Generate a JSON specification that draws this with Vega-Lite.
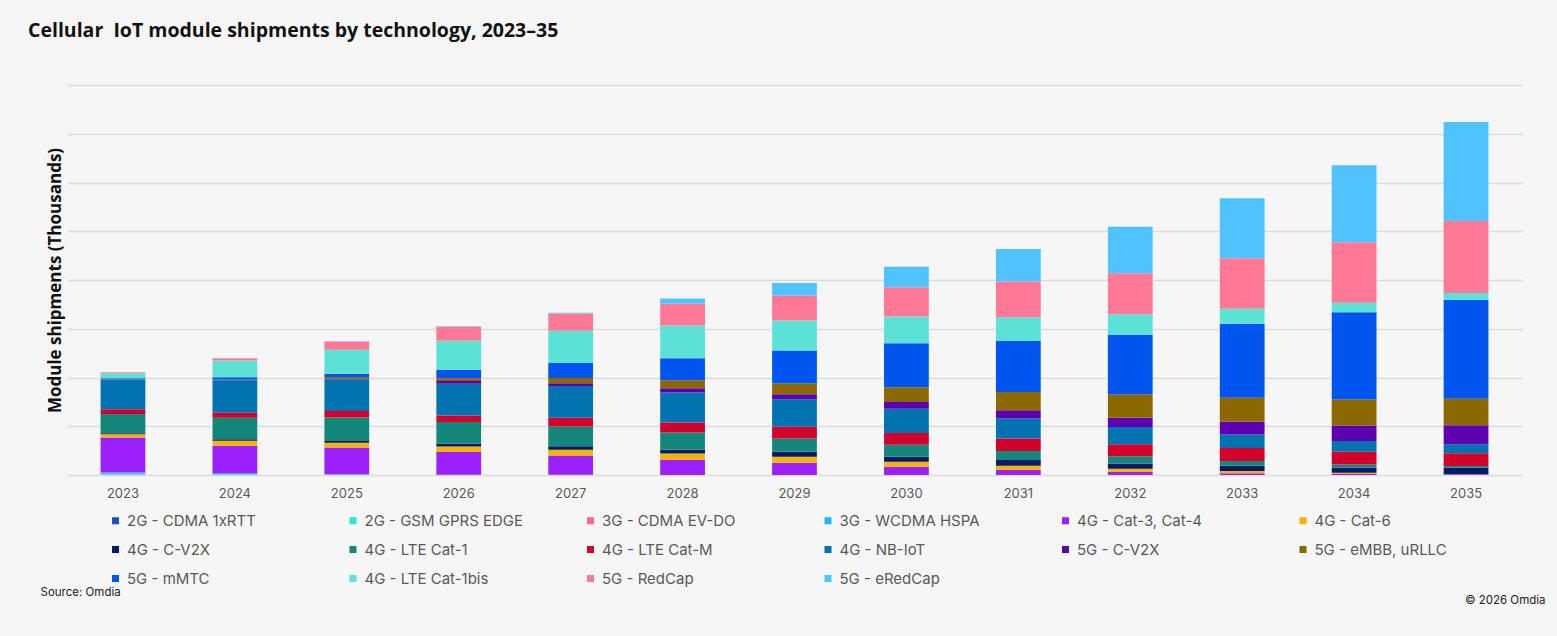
{
  "$schema": "https://vega.github.io/schema/vega-lite/v6.json",
  "autosize": "none",
  "width": 1455,
  "height": 390,
  "padding": {"left": 67, "top": 85, "right": 35, "bottom": 161},
  "background": "#f6f6f6",
  "title": {
    "text": "Cellular\u00a0 IoT module shipments by technology, 2023\u201335",
    "anchor": "start",
    "frame": "group",
    "dx": -39,
    "offset": 29,
    "baseline": "alphabetic",
    "font": "Open Sans",
    "fontSize": 19.5,
    "fontWeight": "bold",
    "color": "#111111"
  },
  "config": {
    "view": {"stroke": null},
    "font": "Inter"
  },
  "data": {
    "values": [
      {"year": "2023", "tech": "2G - CDMA 1xRTT", "value": 600},
      {"year": "2023", "tech": "2G - GSM GPRS EDGE", "value": 1400},
      {"year": "2023", "tech": "3G - CDMA EV-DO", "value": 400},
      {"year": "2023", "tech": "3G - WCDMA HSPA", "value": 2700},
      {"year": "2023", "tech": "4G - Cat-3, Cat-4", "value": 71600},
      {"year": "2023", "tech": "4G - Cat-6", "value": 6700},
      {"year": "2023", "tech": "4G - C-V2X", "value": 2000},
      {"year": "2023", "tech": "4G - LTE Cat-1", "value": 39500},
      {"year": "2023", "tech": "4G - LTE Cat-M", "value": 10200},
      {"year": "2023", "tech": "4G - NB-IoT", "value": 60700},
      {"year": "2023", "tech": "5G - C-V2X", "value": 0},
      {"year": "2023", "tech": "5G - eMBB, uRLLC", "value": 600},
      {"year": "2023", "tech": "5G - mMTC", "value": 2000},
      {"year": "2023", "tech": "4G - LTE Cat-1bis", "value": 10200},
      {"year": "2023", "tech": "5G - RedCap", "value": 2000},
      {"year": "2023", "tech": "5G - eRedCap", "value": 0},

      {"year": "2024", "tech": "2G - CDMA 1xRTT", "value": 400},
      {"year": "2024", "tech": "2G - GSM GPRS EDGE", "value": 1000},
      {"year": "2024", "tech": "3G - CDMA EV-DO", "value": 200},
      {"year": "2024", "tech": "3G - WCDMA HSPA", "value": 2000},
      {"year": "2024", "tech": "4G - Cat-3, Cat-4", "value": 56600},
      {"year": "2024", "tech": "4G - Cat-6", "value": 10200},
      {"year": "2024", "tech": "4G - C-V2X", "value": 2700},
      {"year": "2024", "tech": "4G - LTE Cat-1", "value": 44400},
      {"year": "2024", "tech": "4G - LTE Cat-M", "value": 10200},
      {"year": "2024", "tech": "4G - NB-IoT", "value": 66900},
      {"year": "2024", "tech": "5G - C-V2X", "value": 400},
      {"year": "2024", "tech": "5G - eMBB, uRLLC", "value": 1000},
      {"year": "2024", "tech": "5G - mMTC", "value": 4500},
      {"year": "2024", "tech": "4G - LTE Cat-1bis", "value": 34200},
      {"year": "2024", "tech": "5G - RedCap", "value": 4700},
      {"year": "2024", "tech": "5G - eRedCap", "value": 0},

      {"year": "2025", "tech": "2G - CDMA 1xRTT", "value": 200},
      {"year": "2025", "tech": "2G - GSM GPRS EDGE", "value": 600},
      {"year": "2025", "tech": "3G - CDMA EV-DO", "value": 0},
      {"year": "2025", "tech": "3G - WCDMA HSPA", "value": 600},
      {"year": "2025", "tech": "4G - Cat-3, Cat-4", "value": 55200},
      {"year": "2025", "tech": "4G - Cat-6", "value": 9600},
      {"year": "2025", "tech": "4G - C-V2X", "value": 3500},
      {"year": "2025", "tech": "4G - LTE Cat-1", "value": 48500},
      {"year": "2025", "tech": "4G - LTE Cat-M", "value": 12900},
      {"year": "2025", "tech": "4G - NB-IoT", "value": 65400},
      {"year": "2025", "tech": "5G - C-V2X", "value": 1000},
      {"year": "2025", "tech": "5G - eMBB, uRLLC", "value": 3700},
      {"year": "2025", "tech": "5G - mMTC", "value": 6700},
      {"year": "2025", "tech": "4G - LTE Cat-1bis", "value": 49100},
      {"year": "2025", "tech": "5G - RedCap", "value": 17000},
      {"year": "2025", "tech": "5G - eRedCap", "value": 200},

      {"year": "2026", "tech": "2G - GSM GPRS EDGE", "value": 300},
      {"year": "2026", "tech": "3G - WCDMA HSPA", "value": 300},
      {"year": "2026", "tech": "4G - Cat-3, Cat-4", "value": 46400},
      {"year": "2026", "tech": "4G - Cat-6", "value": 11700},
      {"year": "2026", "tech": "4G - C-V2X", "value": 5500},
      {"year": "2026", "tech": "4G - LTE Cat-1", "value": 44400},
      {"year": "2026", "tech": "4G - LTE Cat-M", "value": 13700},
      {"year": "2026", "tech": "4G - NB-IoT", "value": 64800},
      {"year": "2026", "tech": "5G - C-V2X", "value": 5500},
      {"year": "2026", "tech": "5G - eMBB, uRLLC", "value": 6100},
      {"year": "2026", "tech": "5G - mMTC", "value": 17000},
      {"year": "2026", "tech": "4G - LTE Cat-1bis", "value": 59900},
      {"year": "2026", "tech": "5G - RedCap", "value": 28600},
      {"year": "2026", "tech": "5G - eRedCap", "value": 1000},

      {"year": "2027", "tech": "2G - GSM GPRS EDGE", "value": 200},
      {"year": "2027", "tech": "3G - WCDMA HSPA", "value": 200},
      {"year": "2027", "tech": "4G - Cat-3, Cat-4", "value": 39500},
      {"year": "2027", "tech": "4G - Cat-6", "value": 11700},
      {"year": "2027", "tech": "4G - C-V2X", "value": 7600},
      {"year": "2027", "tech": "4G - LTE Cat-1", "value": 40300},
      {"year": "2027", "tech": "4G - LTE Cat-M", "value": 17800},
      {"year": "2027", "tech": "4G - NB-IoT", "value": 65400},
      {"year": "2027", "tech": "5G - C-V2X", "value": 5500},
      {"year": "2027", "tech": "5G - eMBB, uRLLC", "value": 10800},
      {"year": "2027", "tech": "5G - mMTC", "value": 30700},
      {"year": "2027", "tech": "4G - LTE Cat-1bis", "value": 66100},
      {"year": "2027", "tech": "5G - RedCap", "value": 35400},
      {"year": "2027", "tech": "5G - eRedCap", "value": 1600},

      {"year": "2028", "tech": "4G - Cat-3, Cat-4", "value": 31300},
      {"year": "2028", "tech": "4G - Cat-6", "value": 12900},
      {"year": "2028", "tech": "4G - C-V2X", "value": 7600},
      {"year": "2028", "tech": "4G - LTE Cat-1", "value": 35400},
      {"year": "2028", "tech": "4G - LTE Cat-M", "value": 20500},
      {"year": "2028", "tech": "4G - NB-IoT", "value": 61400},
      {"year": "2028", "tech": "5G - C-V2X", "value": 8800},
      {"year": "2028", "tech": "5G - eMBB, uRLLC", "value": 16400},
      {"year": "2028", "tech": "5G - mMTC", "value": 45000},
      {"year": "2028", "tech": "4G - LTE Cat-1bis", "value": 67500},
      {"year": "2028", "tech": "5G - RedCap", "value": 44400},
      {"year": "2028", "tech": "5G - eRedCap", "value": 10800},

      {"year": "2029", "tech": "4G - Cat-3, Cat-4", "value": 25200},
      {"year": "2029", "tech": "4G - Cat-6", "value": 12300},
      {"year": "2029", "tech": "4G - C-V2X", "value": 10200},
      {"year": "2029", "tech": "4G - LTE Cat-1", "value": 27200},
      {"year": "2029", "tech": "4G - LTE Cat-M", "value": 23900},
      {"year": "2029", "tech": "4G - NB-IoT", "value": 56600},
      {"year": "2029", "tech": "5G - C-V2X", "value": 10200},
      {"year": "2029", "tech": "5G - eMBB, uRLLC", "value": 21900},
      {"year": "2029", "tech": "5G - mMTC", "value": 68100},
      {"year": "2029", "tech": "4G - LTE Cat-1bis", "value": 61400},
      {"year": "2029", "tech": "5G - RedCap", "value": 51100},
      {"year": "2029", "tech": "5G - eRedCap", "value": 26000},

      {"year": "2030", "tech": "4G - Cat-3, Cat-4", "value": 17000},
      {"year": "2030", "tech": "4G - Cat-6", "value": 10200},
      {"year": "2030", "tech": "4G - C-V2X", "value": 10200},
      {"year": "2030", "tech": "4G - LTE Cat-1", "value": 24500},
      {"year": "2030", "tech": "4G - LTE Cat-M", "value": 24500},
      {"year": "2030", "tech": "4G - NB-IoT", "value": 49700},
      {"year": "2030", "tech": "5G - C-V2X", "value": 13700},
      {"year": "2030", "tech": "5G - eMBB, uRLLC", "value": 30100},
      {"year": "2030", "tech": "5G - mMTC", "value": 90600},
      {"year": "2030", "tech": "4G - LTE Cat-1bis", "value": 54600},
      {"year": "2030", "tech": "5G - RedCap", "value": 59900},
      {"year": "2030", "tech": "5G - eRedCap", "value": 42300},

      {"year": "2031", "tech": "4G - Cat-3, Cat-4", "value": 10200},
      {"year": "2031", "tech": "4G - Cat-6", "value": 8800},
      {"year": "2031", "tech": "4G - C-V2X", "value": 11700},
      {"year": "2031", "tech": "4G - LTE Cat-1", "value": 18400},
      {"year": "2031", "tech": "4G - LTE Cat-M", "value": 26000},
      {"year": "2031", "tech": "4G - NB-IoT", "value": 40900},
      {"year": "2031", "tech": "5G - C-V2X", "value": 17000},
      {"year": "2031", "tech": "5G - eMBB, uRLLC", "value": 37400},
      {"year": "2031", "tech": "5G - mMTC", "value": 104300},
      {"year": "2031", "tech": "4G - LTE Cat-1bis", "value": 49100},
      {"year": "2031", "tech": "5G - RedCap", "value": 73000},
      {"year": "2031", "tech": "5G - eRedCap", "value": 66900},

      {"year": "2032", "tech": "4G - Cat-3, Cat-4", "value": 6100},
      {"year": "2032", "tech": "4G - Cat-6", "value": 6700},
      {"year": "2032", "tech": "4G - C-V2X", "value": 10800},
      {"year": "2032", "tech": "4G - LTE Cat-1", "value": 14900},
      {"year": "2032", "tech": "4G - LTE Cat-M", "value": 24500},
      {"year": "2032", "tech": "4G - NB-IoT", "value": 35400},
      {"year": "2032", "tech": "5G - C-V2X", "value": 19000},
      {"year": "2032", "tech": "5G - eMBB, uRLLC", "value": 47600},
      {"year": "2032", "tech": "5G - mMTC", "value": 122100},
      {"year": "2032", "tech": "4G - LTE Cat-1bis", "value": 42900},
      {"year": "2032", "tech": "5G - RedCap", "value": 83800},
      {"year": "2032", "tech": "5G - eRedCap", "value": 95500},

      {"year": "2033", "tech": "4G - Cat-3, Cat-4", "value": 3500},
      {"year": "2033", "tech": "4G - Cat-6", "value": 4700},
      {"year": "2033", "tech": "4G - C-V2X", "value": 10800},
      {"year": "2033", "tech": "4G - LTE Cat-1", "value": 9600},
      {"year": "2033", "tech": "4G - LTE Cat-M", "value": 26600},
      {"year": "2033", "tech": "4G - NB-IoT", "value": 28000},
      {"year": "2033", "tech": "5G - C-V2X", "value": 26000},
      {"year": "2033", "tech": "5G - eMBB, uRLLC", "value": 49100},
      {"year": "2033", "tech": "5G - mMTC", "value": 151900},
      {"year": "2033", "tech": "4G - LTE Cat-1bis", "value": 30700},
      {"year": "2033", "tech": "5G - RedCap", "value": 103700},
      {"year": "2033", "tech": "5G - eRedCap", "value": 123300},

      {"year": "2034", "tech": "4G - Cat-3, Cat-4", "value": 2000},
      {"year": "2034", "tech": "4G - Cat-6", "value": 2700},
      {"year": "2034", "tech": "4G - C-V2X", "value": 10200},
      {"year": "2034", "tech": "4G - LTE Cat-1", "value": 6700},
      {"year": "2034", "tech": "4G - LTE Cat-M", "value": 26000},
      {"year": "2034", "tech": "4G - NB-IoT", "value": 21900},
      {"year": "2034", "tech": "5G - C-V2X", "value": 32100},
      {"year": "2034", "tech": "5G - eMBB, uRLLC", "value": 53200},
      {"year": "2034", "tech": "5G - mMTC", "value": 179300},
      {"year": "2034", "tech": "4G - LTE Cat-1bis", "value": 19000},
      {"year": "2034", "tech": "5G - RedCap", "value": 124100},
      {"year": "2034", "tech": "5G - eRedCap", "value": 158100},

      {"year": "2035", "tech": "4G - Cat-3, Cat-4", "value": 800},
      {"year": "2035", "tech": "4G - Cat-6", "value": 600},
      {"year": "2035", "tech": "4G - C-V2X", "value": 13700},
      {"year": "2035", "tech": "4G - LTE Cat-1", "value": 3500},
      {"year": "2035", "tech": "4G - LTE Cat-M", "value": 26000},
      {"year": "2035", "tech": "4G - NB-IoT", "value": 18400},
      {"year": "2035", "tech": "5G - C-V2X", "value": 38900},
      {"year": "2035", "tech": "5G - eMBB, uRLLC", "value": 54600},
      {"year": "2035", "tech": "5G - mMTC", "value": 203100},
      {"year": "2035", "tech": "4G - LTE Cat-1bis", "value": 13700},
      {"year": "2035", "tech": "5G - RedCap", "value": 147900},
      {"year": "2035", "tech": "5G - eRedCap", "value": 203100}
    ]
  },
  "transform": [
    {"calculate": "indexof(['2G - CDMA 1xRTT', '2G - GSM GPRS EDGE', '3G - CDMA EV-DO', '3G - WCDMA HSPA', '4G - Cat-3, Cat-4', '4G - Cat-6', '4G - C-V2X', '4G - LTE Cat-1', '4G - LTE Cat-M', '4G - NB-IoT', '5G - C-V2X', '5G - eMBB, uRLLC', '5G - mMTC', '4G - LTE Cat-1bis', '5G - RedCap', '5G - eRedCap'], datum.tech)", "as": "stackOrder"}
  ],
  "layer": [
    {
      "mark": {"type": "bar"},
      "encoding": {
        "x": {
          "field": "year",
          "type": "ordinal",
          "scale": {"paddingInner": 0.6, "paddingOuter": 0.3},
          "axis": {
            "title": "Source: Omdia",
            "titleFont": "Inter",
            "titleFontSize": 11.5,
            "titleFontWeight": "normal",
            "titleColor": "#222222",
            "titleAnchor": "start",
            "titleAlign": "left",
            "titleBaseline": "middle",
            "titleX": -27,
            "titleY": 117,
            "labelAngle": 0,
            "labelFont": "Inter",
            "labelFontSize": 13,
            "labelColor": "#595959",
            "labelPadding": 12,
            "ticks": false,
            "domain": false,
            "grid": false
          }
        },
        "y": {
          "field": "value",
          "type": "quantitative",
          "aggregate": "sum",
          "scale": {"domain": [0, 800000], "nice": false},
          "axis": {
            "title": "Module shipments (Thousands)",
            "titleFont": "Open Sans",
            "titleFontSize": 17,
            "titleFontWeight": "bold",
            "titleColor": "#111111",
            "titlePadding": 3,
            "labels": false,
            "ticks": false,
            "domain": false,
            "grid": true,
            "gridColor": "#dcdcdc",
            "gridWidth": 1.6,
            "values": [0, 100000, 200000, 300000, 400000, 500000, 600000, 700000, 800000]
          }
        },
        "order": {"field": "stackOrder", "type": "quantitative", "sort": "ascending"},
        "color": {
          "field": "tech",
          "type": "nominal",
          "scale": {
            "domain": ["2G - CDMA 1xRTT", "2G - GSM GPRS EDGE", "3G - CDMA EV-DO", "3G - WCDMA HSPA", "4G - Cat-3, Cat-4", "4G - Cat-6", "4G - C-V2X", "4G - LTE Cat-1", "4G - LTE Cat-M", "4G - NB-IoT", "5G - C-V2X", "5G - eMBB, uRLLC", "5G - mMTC", "4G - LTE Cat-1bis", "5G - RedCap", "5G - eRedCap"],
            "range": ["#1f4fc8", "#33e3d3", "#ff6a8c", "#25b6f5", "#9b20fb", "#f5b400", "#061a6b", "#14877a", "#d2002a", "#0173b0", "#5c00b0", "#8c6800", "#0055ee", "#5ce1d6", "#ff7895", "#50c3ff"]
          },
          "legend": {
            "orient": "none",
            "legendX": 41,
            "legendY": 428,
            "direction": "horizontal",
            "columns": 6,
            "gridAlign": "all",
            "title": null,
            "padding": 0,
            "symbolType": "square",
            "symbolSize": 49,
            "symbolStrokeWidth": 0,
            "symbolOpacity": 1,
            "labelFont": "Inter",
            "labelFontSize": 15,
            "labelColor": "#595959",
            "labelOffset": 4,
            "labelLimit": 300,
            "rowPadding": 13,
            "columnPadding": 59.5
          }
        }
      }
    },
    {
      "mark": {"type": "bar", "opacity": 0},
      "encoding": {
        "x": {"field": "year", "type": "ordinal"},
        "y": {
          "field": "value",
          "type": "quantitative",
          "aggregate": "sum",
          "scale": {"domain": [0, 800000], "nice": false},
          "axis": {
            "orient": "right",
            "title": "\u00a9 2026 Omdia",
            "titleAngle": 0,
            "titleFont": "Inter",
            "titleFontSize": 11.5,
            "titleFontWeight": "normal",
            "titleColor": "#222222",
            "titleAlign": "right",
            "titleBaseline": "middle",
            "titleX": 23,
            "titleY": 515,
            "labels": false,
            "ticks": false,
            "domain": false,
            "grid": false
          }
        }
      }
    }
  ],
  "resolve": {"scale": {"y": "independent"}}
}
